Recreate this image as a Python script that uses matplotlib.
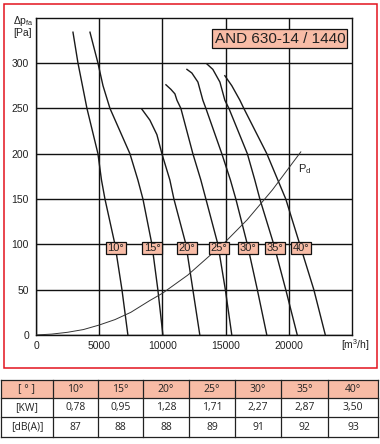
import matplotlib
matplotlib.use("Agg")
import matplotlib.pyplot as plt
import numpy as np
from matplotlib.patches import Rectangle
from matplotlib.lines import Line2D

# ---------------- data ----------------
angles = ["10°", "15°", "20°", "25°", "30°", "35°", "40°"]

flow_10 = [2925, 3320, 4030, 4900, 5180, 5455, 6245, 6800, 7270]
pa_10 = [334, 300, 250, 200, 171, 150, 100, 50, 0]
flow_15 = [4270, 4900, 5300, 5850, 6640, 7430, 8060, 8460, 9170, 9640, 10040]
pa_15 = [334, 300, 275, 250, 225, 200, 171, 150, 100, 50, 0]
flow_20 = [8380, 9010, 9565, 9960, 10590, 10910, 11860, 12410, 12960]
pa_20 = [249, 237, 221, 200, 171, 150, 100, 50, 0]
flow_25 = [10280, 10670, 10990, 11150, 11460, 12410, 13040, 13440, 14390, 14980, 15490]
pa_25 = [276, 271, 266, 259, 250, 200, 171, 150, 100, 50, 0]
flow_30 = [11940, 12330, 12810, 13200, 13440, 14700, 15380, 15810, 16720, 17510, 18260]
pa_30 = [293, 289, 279, 259, 250, 200, 171, 150, 100, 50, 0]
flow_35 = [13520, 13990, 14550, 14940, 15260, 16720, 17310, 17710, 18810, 19760, 20670]
pa_35 = [299, 293, 279, 259, 250, 200, 171, 150, 100, 50, 0]
flow_40 = [14940, 15490, 16130, 16440, 18260, 19130, 19760, 20870, 21980, 22890]
pa_40 = [286, 275, 259, 250, 200, 171, 150, 100, 50, 0]

pd_flow = [0, 1250, 2500, 3750, 5000, 6250, 7500, 9000, 10000, 12000, 15000, 16700, 18700, 20950]
pd_pa = [0, 1, 3, 6, 11, 17, 25, 38, 46, 66, 103, 127, 160, 202]

x_ticks = [0, 5000, 10000, 15000, 20000]
y_ticks = [0, 50, 100, 150, 200, 250, 300]

title = "AND 630-14 / 1440"
table_head = "[ ° ]"
row_labels = ["[KW]", "[dB(A)]"]
kw = ["0,78", "0,95", "1,28", "1,71", "2,27", "2,87", "3,50"]
dba = ["87", "88", "88", "89", "91", "92", "93"]

curves = [(flow_10, pa_10), (flow_15, pa_15), (flow_20, pa_20), (flow_25, pa_25),
          (flow_30, pa_30), (flow_35, pa_35), (flow_40, pa_40)]

# ---------------- style ----------------
W, H = 380, 444
SALMON = "#F8BCA6"
RED = "#E3141E"
NARROW = ["Liberation Sans Narrow", "Liberation Sans", "DejaVu Sans"]
TABLEF = ["Open Sans", "DejaVu Sans"]

def fx(x):
    return x / W

def fy(y):
    return 1 - y / H

fig = plt.figure(figsize=(W / 100, H / 100), dpi=100)
fig.patch.set_facecolor("white")

# red frame
fig.patches.append(Rectangle((fx(4), fy(368)), fx(373), 364 / H, transform=fig.transFigure,
                             fill=False, edgecolor=RED, linewidth=1.1, zorder=0))

ax = fig.add_axes([fx(36), fy(335), fx(352) - fx(36), (335 - 17.7) / H])
ax.set_xlim(0, 25000)
ax.set_ylim(0, 350)
ax.set_xticks(x_ticks)
ax.set_yticks(y_ticks)
ax.set_xticklabels([str(v) for v in x_ticks], family=NARROW, fontsize=7.5, color="#222")
ax.set_yticklabels([str(v) for v in y_ticks], family=NARROW, fontsize=7.5, color="#222")
ax.tick_params(length=0, pad=5)
ax.tick_params(axis="x", pad=4)
ax.grid(True, color="#111", linewidth=1.0)
ax.set_axisbelow(True)
for s in ax.spines.values():
    s.set_color("#111")
    s.set_linewidth(1.0)

for q, p in curves:
    ax.plot(q, p, color="#1a1a1a", linewidth=1.0, zorder=3, solid_joinstyle="round")

ax.plot(pd_flow, pd_pa, color="#333", linewidth=0.7, zorder=3)
ax.text(20710, 183, "P$_\\mathregular{d}$", family=NARROW, fontsize=8, color="#222",
        ha="left", va="center", zorder=4)

# angle labels centred on each curve at ~96 Pa
box_w, box_h, box_p = 1580, 13.2, 95.6
for name, (q, p) in zip(angles, curves):
    qc = float(np.interp(box_p, p[::-1], q[::-1]))
    ax.add_patch(Rectangle((qc - box_w / 2, box_p - box_h / 2), box_w, box_h,
                           facecolor=SALMON, edgecolor="#111", linewidth=0.9, zorder=5))
    ax.text(qc, box_p, name, family=NARROW, fontsize=8, color="#222",
            ha="center", va="center", zorder=6)

# title box
ax.text(19290, 327, title, family=NARROW, fontsize=11, color="#222", ha="center", va="center",
        zorder=6, bbox=dict(boxstyle="square,pad=0.15", facecolor=SALMON, edgecolor="#111",
                            linewidth=0.9))

# axis titles
fig.text(fx(13), fy(21), "Δp$_\\mathregular{fa}$", family=NARROW, fontsize=7.5, color="#222",
         ha="left", va="center")
fig.text(fx(13), fy(33), "[Pa]", family=NARROW, fontsize=7.5, color="#222", ha="left", va="center")
fig.text(fx(355), fy(345), "[m$^\\mathregular{3}$/h]", family=NARROW, fontsize=7.5, color="#222",
         ha="center", va="center")

# ---------------- table ----------------
col_edges = [1, 53, 98, 143, 189, 235, 281, 328, 378]
row_edges = [380, 398, 417, 437]
fig.patches.append(Rectangle((fx(col_edges[0]), fy(row_edges[1])),
                             fx(col_edges[-1]) - fx(col_edges[0]), (row_edges[1] - row_edges[0]) / H,
                             transform=fig.transFigure, facecolor=SALMON, edgecolor="none"))
for y in row_edges:
    fig.lines.append(Line2D([fx(col_edges[0]), fx(col_edges[-1])], [fy(y), fy(y)],
                            transform=fig.transFigure, color="#222", linewidth=0.9))
for x in col_edges:
    fig.lines.append(Line2D([fx(x), fx(x)], [fy(row_edges[0]), fy(row_edges[-1])],
                            transform=fig.transFigure, color="#222", linewidth=0.9))

rows = [[table_head] + angles, [row_labels[0]] + kw, [row_labels[1]] + dba]
for r, vals in enumerate(rows):
    yc = (row_edges[r] + row_edges[r + 1]) / 2
    for c, v in enumerate(vals):
        xc = (col_edges[c] + col_edges[c + 1]) / 2
        fig.text(fx(xc), fy(yc), v, family=TABLEF, fontsize=7.5, color="#222",
                 ha="center", va="center")

fig.savefig("out.png", dpi=100, facecolor="white")
